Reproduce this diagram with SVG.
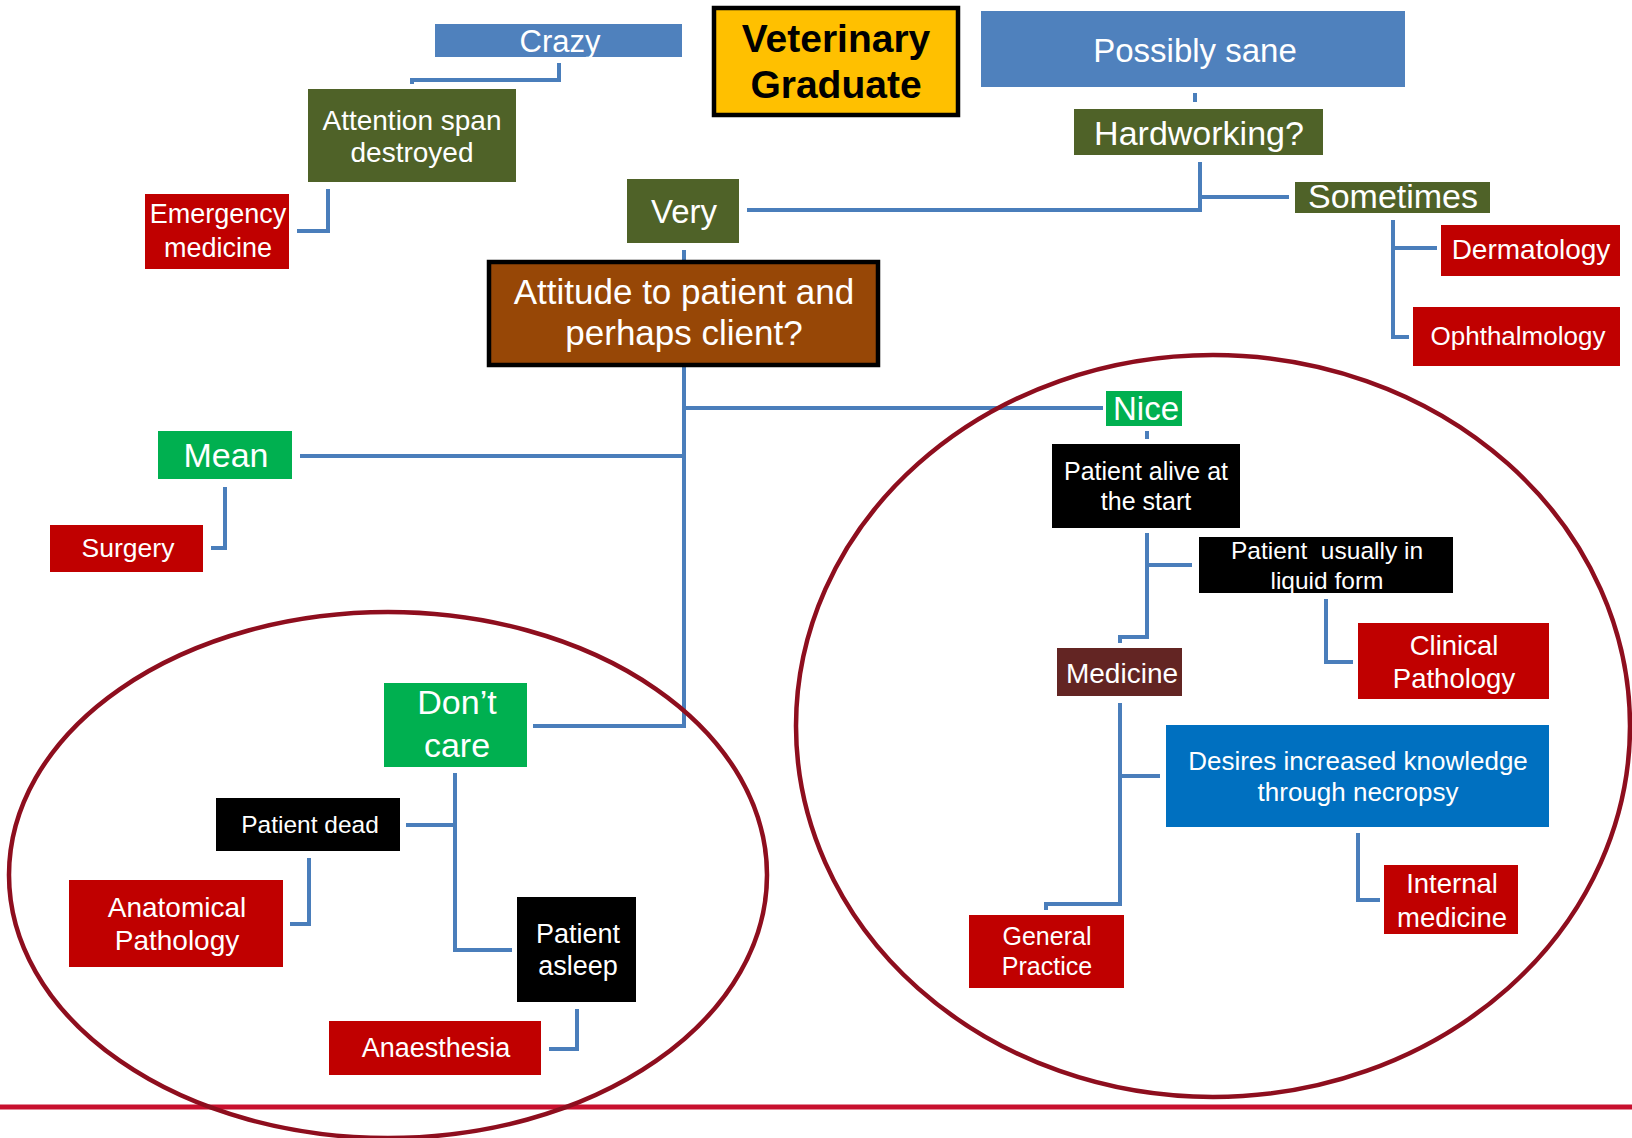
<svg xmlns="http://www.w3.org/2000/svg" width="1632" height="1138" viewBox="0 0 1632 1138">
<style>
  text { font-family: "Liberation Sans", Arial, sans-serif; fill: #ffffff; text-anchor: middle; }
  .dark { fill: #000000; font-weight: bold; }
  .blue { fill: #4F81BD; }
  .olive { fill: #4F6228; }
  .red { fill: #C00000; }
  .green { fill: #00B050; }
  .black { fill: #000000; }
  .brown { fill: #974706; stroke: #000; stroke-width: 4.5; }
  .yellow { fill: #FFC000; stroke: #000; stroke-width: 4.5; }
  .maroon { fill: #632523; }
  .deepblue { fill: #0070C0; }
  .conn { fill: none; stroke: #4A7EBB; stroke-width: 4; stroke-linejoin: miter; }
  .ring { fill: none; stroke: #8E0E1E; stroke-width: 4.5; }
</style>

<rect x="0" y="0" width="1632" height="1138" fill="#ffffff"/>

<line x1="0" y1="1107" x2="1632" y2="1107" stroke="#C8102E" stroke-width="5"/>

<g id="connectors">
  <path class="conn" d="M559,63 V80 H412 V84"/>
  <path class="conn" d="M328,189 V231 H297"/>
  <path class="conn" d="M1195,93 V102"/>
  <path class="conn" d="M1200,162 V210 H747"/>
  <path class="conn" d="M1200,197 H1289"/>
  <path class="conn" d="M1393,220 V337 H1409"/>
  <path class="conn" d="M1393,248 H1437"/>
  <path class="conn" d="M684,250 V260"/>
  <path class="conn" d="M684,367 V726 H533"/>
  <path class="conn" d="M684,408 H1103"/>
  <path class="conn" d="M684,456 H300"/>
  <path class="conn" d="M225,487 V548 H211"/>
  <path class="conn" d="M1147,431 V439"/>
  <path class="conn" d="M1147,533 V637 H1120 V643"/>
  <path class="conn" d="M1147,565 H1192"/>
  <path class="conn" d="M1326,599 V662 H1353"/>
  <path class="conn" d="M1120,703 V904 H1046 V910"/>
  <path class="conn" d="M1120,776 H1160"/>
  <path class="conn" d="M1358,833 V900 H1380"/>
  <path class="conn" d="M455,773 V950 H512"/>
  <path class="conn" d="M455,825 H406"/>
  <path class="conn" d="M309,858 V924 H290"/>
  <path class="conn" d="M577,1009 V1049 H549"/>
</g>

<g id="groupings">
  <ellipse class="ring" cx="388" cy="875" rx="379" ry="263"/>
  <ellipse class="ring" cx="1213" cy="726" rx="417" ry="371"/>
</g>

<g id="crazy">
  <rect class="blue" x="435" y="24" width="247" height="33"/>
  <text x="560" y="52" font-size="31">Crazy</text>
</g>
<g id="veterinary-graduate">
  <rect class="yellow" x="714" y="8" width="244" height="107"/>
  <text class="dark" x="836" y="52" font-size="39">Veterinary</text>
  <text class="dark" x="836" y="98" font-size="39">Graduate</text>
</g>
<g id="possibly-sane">
  <rect class="blue" x="981" y="11" width="424" height="76"/>
  <text x="1195" y="62" font-size="33">Possibly sane</text>
</g>
<g id="hardworking">
  <rect class="olive" x="1074" y="109" width="249" height="46"/>
  <text x="1199" y="145" font-size="34">Hardworking?</text>
</g>
<g id="attention-span">
  <rect class="olive" x="308" y="89" width="208" height="93"/>
  <text x="412" y="130" font-size="28">Attention span</text>
  <text x="412" y="162" font-size="28">destroyed</text>
</g>
<g id="emergency-medicine">
  <rect class="red" x="145" y="194" width="144" height="75"/>
  <text x="218" y="223" font-size="27">Emergency</text>
  <text x="218" y="257" font-size="27">medicine</text>
</g>
<g id="very">
  <rect class="olive" x="627" y="179" width="112" height="64"/>
  <text x="684" y="223" font-size="33">Very</text>
</g>
<g id="sometimes">
  <rect class="olive" x="1295" y="182" width="195" height="31"/>
  <text x="1393" y="208" font-size="34">Sometimes</text>
</g>
<g id="dermatology">
  <rect class="red" x="1441" y="225" width="179" height="51"/>
  <text x="1531" y="259" font-size="28">Dermatology</text>
</g>
<g id="ophthalmology">
  <rect class="red" x="1413" y="307" width="207" height="59"/>
  <text x="1518" y="345" font-size="26">Ophthalmology</text>
</g>
<g id="attitude">
  <rect class="brown" x="489" y="262" width="389" height="103"/>
  <text x="684" y="304" font-size="35">Attitude to patient and</text>
  <text x="684" y="345" font-size="35">perhaps client?</text>
</g>
<g id="mean">
  <rect class="green" x="158" y="431" width="134" height="48"/>
  <text x="226" y="467" font-size="34">Mean</text>
</g>
<g id="surgery">
  <rect class="red" x="50" y="525" width="153" height="47"/>
  <text x="128" y="557" font-size="26.5">Surgery</text>
</g>
<g id="dont-care">
  <rect class="green" x="384" y="683" width="143" height="84"/>
  <text x="457" y="714" font-size="34">Don’t</text>
  <text x="457" y="757" font-size="34">care</text>
</g>
<g id="patient-dead">
  <rect class="black" x="216" y="798" width="184" height="53"/>
  <text x="310" y="833" font-size="24.5">Patient dead</text>
</g>
<g id="patient-asleep">
  <rect class="black" x="517" y="897" width="119" height="105"/>
  <text x="578" y="943" font-size="27">Patient</text>
  <text x="578" y="975" font-size="27">asleep</text>
</g>
<g id="anatomical-pathology">
  <rect class="red" x="69" y="880" width="214" height="87"/>
  <text x="177" y="917" font-size="28">Anatomical</text>
  <text x="177" y="950" font-size="28">Pathology</text>
</g>
<g id="anaesthesia">
  <rect class="red" x="329" y="1021" width="212" height="54"/>
  <text x="436" y="1057" font-size="27">Anaesthesia</text>
</g>
<g id="nice">
  <rect class="green" x="1106" y="391" width="76" height="35"/>
  <text x="1146" y="420" font-size="33">Nice</text>
</g>
<g id="patient-alive">
  <rect class="black" x="1052" y="444" width="188" height="84"/>
  <text x="1146" y="480" font-size="25">Patient alive at</text>
  <text x="1146" y="510" font-size="25">the start</text>
</g>
<g id="liquid-form">
  <rect class="black" x="1199" y="537" width="254" height="56"/>
  <text x="1327" y="559" font-size="24.5" xml:space="preserve">Patient  usually in</text>
  <text x="1327" y="589" font-size="24.5">liquid form</text>
</g>
<g id="clinical-pathology">
  <rect class="red" x="1358" y="623" width="191" height="76"/>
  <text x="1454" y="655" font-size="27.5">Clinical</text>
  <text x="1454" y="688" font-size="27.5">Pathology</text>
</g>
<g id="medicine">
  <rect class="maroon" x="1057" y="648" width="125" height="48"/>
  <text x="1122" y="683" font-size="28">Medicine</text>
</g>
<g id="necropsy">
  <rect class="deepblue" x="1166" y="725" width="383" height="102"/>
  <text x="1358" y="770" font-size="26">Desires increased knowledge</text>
  <text x="1358" y="801" font-size="26">through necropsy</text>
</g>
<g id="internal-medicine">
  <rect class="red" x="1384" y="865" width="134" height="69"/>
  <text x="1452" y="893" font-size="27.5">Internal</text>
  <text x="1452" y="927" font-size="27.5">medicine</text>
</g>
<g id="general-practice">
  <rect class="red" x="969" y="915" width="155" height="73"/>
  <text x="1047" y="945" font-size="25">General</text>
  <text x="1047" y="975" font-size="25">Practice</text>
</g>
</svg>
